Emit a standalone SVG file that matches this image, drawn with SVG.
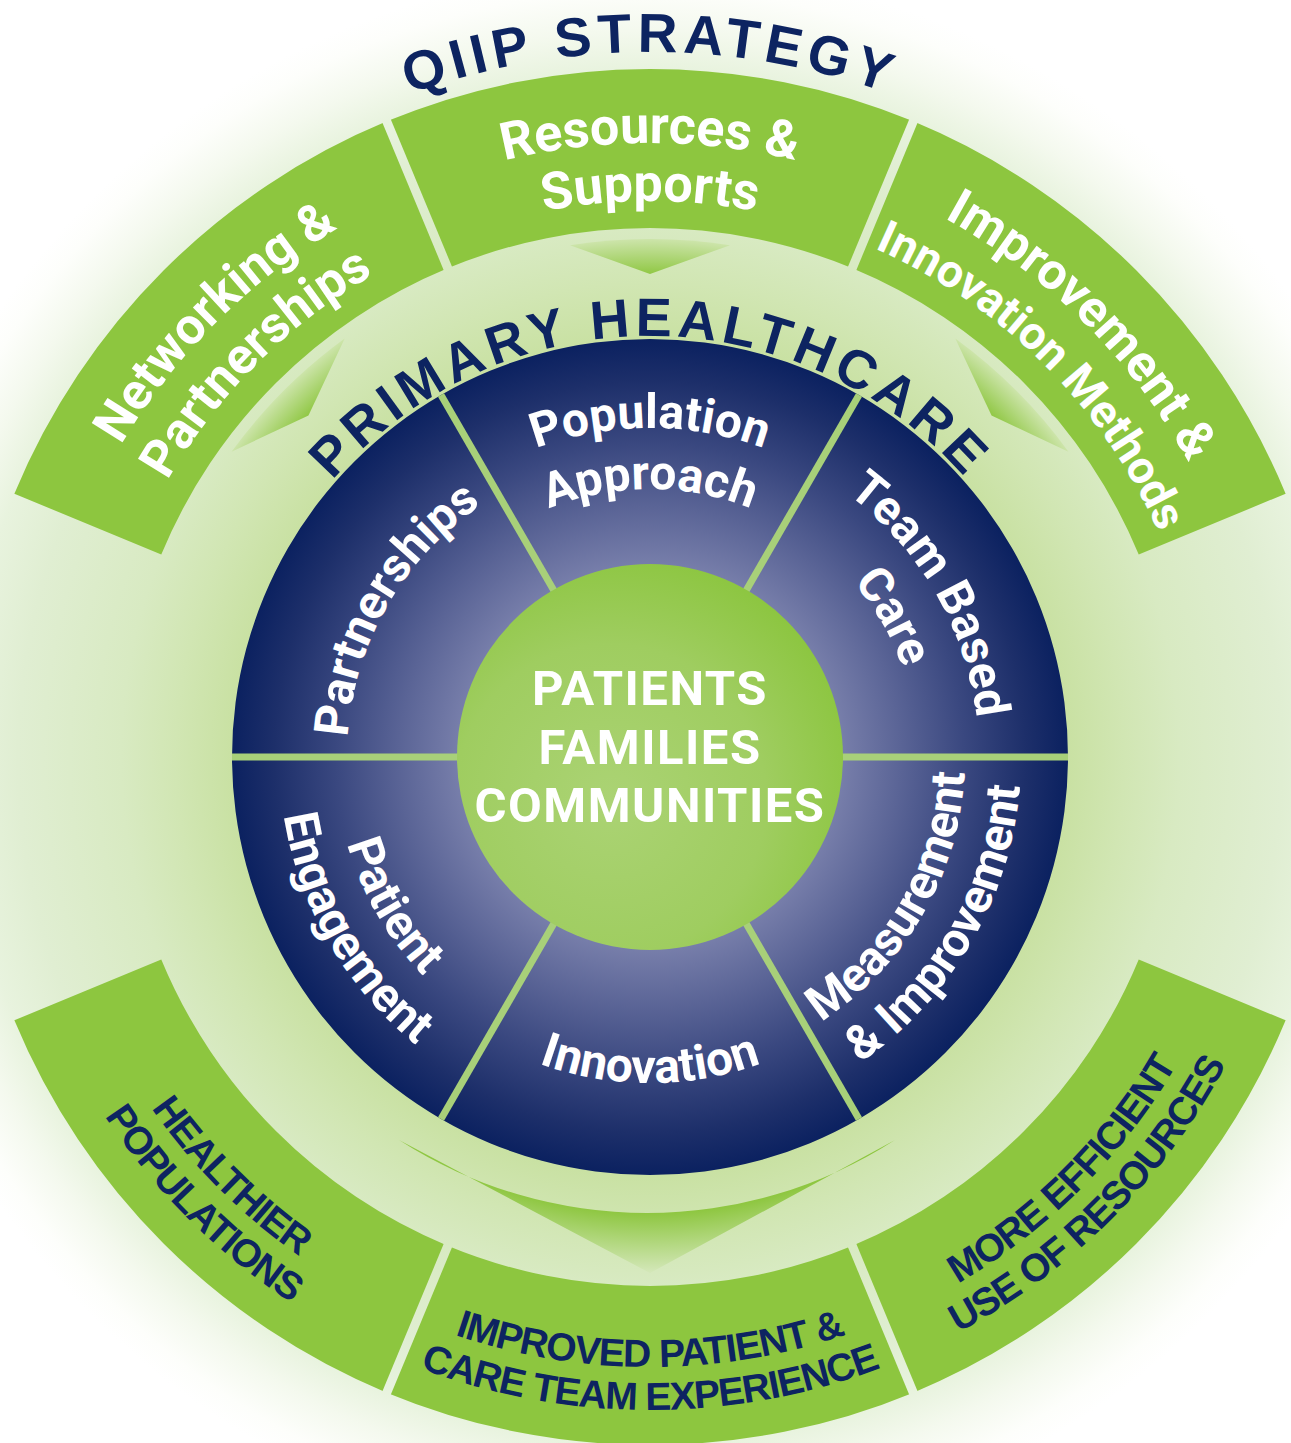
<svg xmlns="http://www.w3.org/2000/svg" width="1291" height="1443" viewBox="0 0 1291 1443">
<defs>
<style>
.w{fill:#ffffff;font-family:Roboto,"Liberation Sans",Arial,sans-serif;font-weight:700}
.nl{font-size:48px}
.bl{font-size:51px}
.nv{fill:#0d2461;font-family:"Liberation Sans",Arial,sans-serif;font-weight:700}
.bt{font-size:39px;letter-spacing:-1.2px}
.band{fill:#8dc63f}
.seg{fill:url(#navy)}
.div{stroke:#a8d079;stroke-width:7;fill:none}
.gap{stroke:url(#bg);stroke-width:9;fill:none}
.ctr{font-size:49px;letter-spacing:1.5px}
</style>
<radialGradient id="bg" gradientUnits="userSpaceOnUse" cx="650" cy="757" r="790">
<stop offset="0" stop-color="#c6df9c"/>
<stop offset="0.53" stop-color="#c9e1a3"/>
<stop offset="0.6" stop-color="#d1e6b3"/>
<stop offset="0.67" stop-color="#d8eac2"/>
<stop offset="0.8" stop-color="#e0eed2"/>
<stop offset="0.87" stop-color="#e8f3de"/>
<stop offset="0.92" stop-color="#f4f9ee"/>
<stop offset="0.97" stop-color="#fdfefb"/>
<stop offset="1" stop-color="#ffffff"/>
</radialGradient>
<radialGradient id="navy" gradientUnits="userSpaceOnUse" cx="650" cy="757" r="418">
<stop offset="0" stop-color="#8a90b8"/>
<stop offset="0.46" stop-color="#777eaa"/>
<stop offset="0.6" stop-color="#5a6496"/>
<stop offset="0.75" stop-color="#3a4880"/>
<stop offset="0.9" stop-color="#1d2f6a"/>
<stop offset="1" stop-color="#0b2160"/>
</radialGradient>
<radialGradient id="core" gradientUnits="userSpaceOnUse" cx="610" cy="800" r="260">
<stop offset="0" stop-color="#abd374"/>
<stop offset="0.6" stop-color="#9fcd60"/>
<stop offset="1" stop-color="#8bc53e"/>
</radialGradient>
<radialGradient id="chevG" gradientUnits="userSpaceOnUse" cx="650" cy="757" r="520">
<stop offset="0.925" stop-color="#8dc63f"/>
<stop offset="1" stop-color="#d0e6b0"/>
</radialGradient>
<radialGradient id="chevB" gradientUnits="userSpaceOnUse" cx="650" cy="757" r="520">
<stop offset="0.875" stop-color="#8dc63f"/>
<stop offset="0.99" stop-color="#d3e7b8"/>
</radialGradient>
<path id="chev" d="M 570 245.2 A 518 518 0 0 1 730 245.2 L 650 274 Z"/>
<path id="cw705" d="M -44.29 634.58 A 705 705 0 0 1 1344.29 634.58"/>
<path id="cw421" d="M 235.39 683.89 A 421 421 0 0 1 1064.61 683.89"/>
<path id="cw329" d="M 326 699.87 A 329 329 0 0 1 974 699.87"/>
<path id="cw268" d="M 386.07 710.46 A 268 268 0 0 1 913.93 710.46"/>
<path id="cw303" d="M 351.6 704.38 A 303 303 0 0 1 948.4 704.38"/>
<path id="cw614" d="M 45.33 650.38 A 614 614 0 0 1 1254.67 650.38"/>
<path id="cw556" d="M 102.45 660.45 A 556 556 0 0 1 1197.55 660.45"/>
<path id="ccw315" d="M 339.78 811.7 A 315 315 0 0 0 960.22 811.7"/>
<path id="ccw371" d="M 284.64 821.42 A 371 371 0 0 0 1015.36 821.42"/>
<path id="ccw326" d="M 328.95 813.61 A 326 326 0 0 0 971.05 813.61"/>
<path id="ccw610" d="M 49.27 862.93 A 610 610 0 0 0 1250.73 862.93"/>
<path id="ccw653" d="M 6.92 870.39 A 653 653 0 0 0 1293.08 870.39"/>
</defs>

<g id="background">
<rect x="0" y="0" width="1291" height="1443" fill="#ffffff"/>
<circle cx="650" cy="757" r="790" fill="url(#bg)"/>
</g>

<g id="title">
<text class="nv" font-size="55" letter-spacing="5.5" text-anchor="middle"><textPath href="#cw705" startOffset="50%">QIIP STRATEGY</textPath></text>
</g>

<g id="networking-partnerships">
<path class="band" d="M 14.37 493.72 A 688 688 0 0 1 386.72 121.37 L 447.56 268.27 A 529 529 0 0 0 161.27 554.56 Z"/>
<g transform="rotate(-45 650 757)">
<text class="w bl" text-anchor="middle"><textPath href="#cw614" startOffset="50%">Networking &amp;</textPath></text>
<text class="w bl" text-anchor="middle"><textPath href="#cw556" startOffset="50%">Partnerships</textPath></text>
</g>
</g>

<g id="resources-supports">
<path class="band" d="M 386.72 121.37 A 688 688 0 0 1 913.28 121.37 L 852.44 268.27 A 529 529 0 0 0 447.56 268.27 Z"/>
<text class="w" font-size="52" text-anchor="middle"><textPath href="#cw614" startOffset="50%">Resources &amp;</textPath></text>
<text class="w" font-size="52" text-anchor="middle"><textPath href="#cw556" startOffset="50%">Supports</textPath></text>
</g>

<g id="improvement-innovation-methods">
<path class="band" d="M 913.28 121.37 A 688 688 0 0 1 1285.63 493.72 L 1138.73 554.56 A 529 529 0 0 0 852.44 268.27 Z"/>
<g transform="rotate(45 650 757)">
<text class="w bl" text-anchor="middle"><textPath href="#cw614" startOffset="50%">Improvement &amp;</textPath></text>
<text class="w" font-size="46" text-anchor="middle"><textPath href="#cw556" startOffset="50%">Innovation Methods</textPath></text>
</g>
</g>

<g id="more-efficient-use-of-resources">
<path class="band" d="M 1285.63 1020.28 A 688 688 0 0 1 913.28 1392.63 L 852.44 1245.73 A 529 529 0 0 0 1138.73 959.44 Z"/>
<g transform="rotate(-45 650 757)">
<text class="nv bt" text-anchor="middle"><textPath href="#ccw610" startOffset="50%">MORE EFFICIENT</textPath></text>
<text class="nv bt" text-anchor="middle"><textPath href="#ccw653" startOffset="50%">USE OF RESOURCES</textPath></text>
</g>
</g>

<g id="improved-experience">
<path class="band" d="M 913.28 1392.63 A 688 688 0 0 1 386.72 1392.63 L 447.56 1245.73 A 529 529 0 0 0 852.44 1245.73 Z"/>
<text class="nv bt" text-anchor="middle"><textPath href="#ccw610" startOffset="50%">IMPROVED PATIENT &amp;</textPath></text>
<text class="nv bt" text-anchor="middle"><textPath href="#ccw653" startOffset="50%">CARE TEAM EXPERIENCE</textPath></text>
</g>

<g id="healthier-populations">
<path class="band" d="M 386.72 1392.63 A 688 688 0 0 1 14.37 1020.28 L 161.27 959.44 A 529 529 0 0 0 447.56 1245.73 Z"/>
<g transform="rotate(45 650 757)">
<text class="nv bt" text-anchor="middle"><textPath href="#ccw610" startOffset="50%">HEALTHIER</textPath></text>
<text class="nv bt" text-anchor="middle"><textPath href="#ccw653" startOffset="50%">POPULATIONS</textPath></text>
</g>
</g>

<g id="band-gaps">
<line class="gap" x1="457" y1="290.4" x2="382.12" y2="110.28"/>
<line class="gap" x1="843" y1="290.4" x2="917.88" y2="110.28"/>
<line class="gap" x1="843" y1="1223.6" x2="917.88" y2="1403.72"/>
<line class="gap" x1="457" y1="1223.6" x2="382.12" y2="1403.72"/>
</g>

<g id="connectors">
<use href="#chev" fill="url(#chevG)" transform="rotate(-45 650 757)"/>
<use href="#chev" fill="url(#chevG)"/>
<use href="#chev" fill="url(#chevG)" transform="rotate(45 650 757)"/>
<path d="M 399 1140 A 458 458 0 0 0 895 1140 L 650 1273 Z" fill="url(#chevB)"/>
</g>

<g id="primary-healthcare">
<text class="nv" font-size="54" letter-spacing="5" text-anchor="middle"><textPath href="#cw421" startOffset="50%">PRIMARY HEALTHCARE</textPath></text>
</g>

<g id="population-approach">
<path class="seg" d="M 441 395 A 418 418 0 0 1 859 395 L 742.5 596.79 A 185 185 0 0 0 557.5 596.79 Z"/>
<text class="w nl" text-anchor="middle"><textPath href="#cw329" startOffset="50%">Population</textPath></text>
<text class="w nl" text-anchor="middle"><textPath href="#cw268" startOffset="50%">Approach</textPath></text>
</g>

<g id="team-based-care">
<path class="seg" d="M 859 395 A 418 418 0 0 1 1068 757 L 835 757 A 185 185 0 0 0 742.5 596.79 Z"/>
<g transform="rotate(60 650 757)">
<text class="w nl" text-anchor="middle"><textPath href="#cw329" startOffset="50%">Team Based</textPath></text>
<text class="w nl" text-anchor="middle"><textPath href="#cw268" startOffset="50%">Care</textPath></text>
</g>
</g>

<g id="measurement-improvement">
<path class="seg" d="M 1068 757 A 418 418 0 0 1 859 1119 L 742.5 917.21 A 185 185 0 0 0 835 757 Z"/>
<g transform="rotate(-60 650 757)">
<text class="w nl" text-anchor="middle"><textPath href="#ccw315" startOffset="50%">Measurement</textPath></text>
<text class="w nl" text-anchor="middle"><textPath href="#ccw371" startOffset="50%">&amp; Improvement</textPath></text>
</g>
</g>

<g id="innovation">
<path class="seg" d="M 859 1119 A 418 418 0 0 1 441 1119 L 557.5 917.21 A 185 185 0 0 0 742.5 917.21 Z"/>
<text class="w nl" text-anchor="middle"><textPath href="#ccw326" startOffset="50%">Innovation</textPath></text>
</g>

<g id="patient-engagement">
<path class="seg" d="M 441 1119 A 418 418 0 0 1 232 757 L 465 757 A 185 185 0 0 0 557.5 917.21 Z"/>
<g transform="rotate(60 650 757)">
<text class="w nl" text-anchor="middle"><textPath href="#ccw315" startOffset="50%">Patient</textPath></text>
<text class="w nl" text-anchor="middle"><textPath href="#ccw371" startOffset="50%">Engagement</textPath></text>
</g>
</g>

<g id="partnerships">
<path class="seg" d="M 232 757 A 418 418 0 0 1 441 395 L 557.5 596.79 A 185 185 0 0 0 465 757 Z"/>
<g transform="rotate(-60 650 757)">
<text class="w nl" text-anchor="middle"><textPath href="#cw303" startOffset="50%">Partnerships</textPath></text>
</g>
</g>

<g id="segment-dividers">
<line class="div" x1="840" y1="757" x2="1068" y2="757"/>
<line class="div" x1="745" y1="921.5" x2="859" y2="1119"/>
<line class="div" x1="555" y1="921.5" x2="441" y2="1119"/>
<line class="div" x1="460" y1="757" x2="232" y2="757"/>
<line class="div" x1="555" y1="592.5" x2="441" y2="395"/>
<line class="div" x1="745" y1="592.5" x2="859" y2="395"/>
</g>

<g id="patients-families-communities">
<circle cx="650" cy="757" r="193" fill="url(#core)"/>
<text class="w ctr" x="650" y="705" text-anchor="middle">PATIENTS</text>
<text class="w ctr" x="650" y="764" text-anchor="middle">FAMILIES</text>
<text class="w ctr" x="650" y="822" text-anchor="middle">COMMUNITIES</text>
</g>
</svg>
